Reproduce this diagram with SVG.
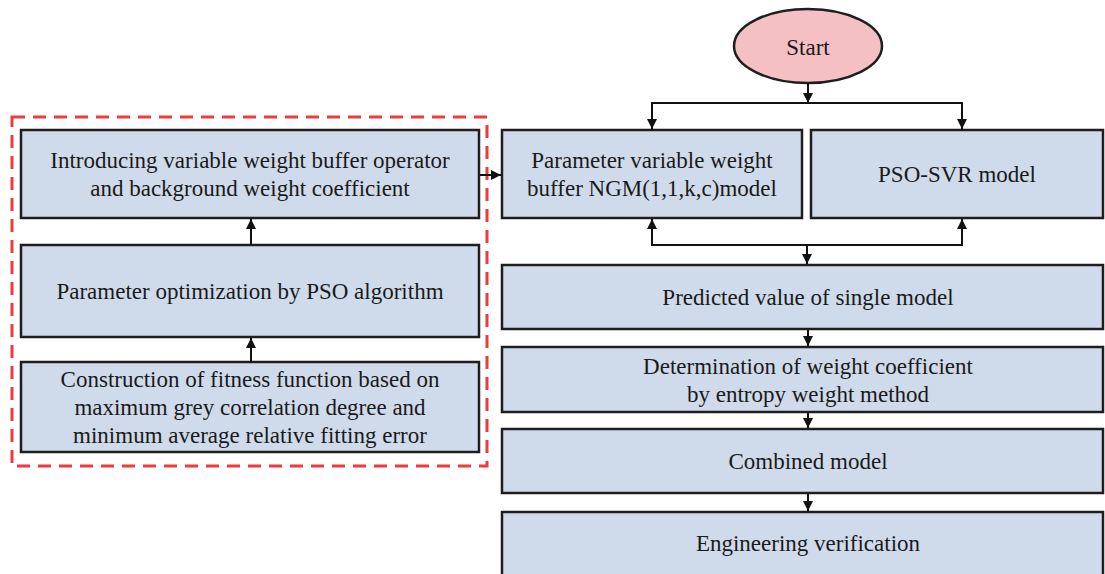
<svg xmlns="http://www.w3.org/2000/svg" width="1105" height="574" viewBox="0 0 1105 574">
<defs>
<style>
.box{fill:#cfdbeb;stroke:#1e1e1e;stroke-width:2.5}
.t{font-family:"Liberation Serif","Times New Roman",serif;font-size:23px;fill:#1a1a1a;text-anchor:middle}
.c{fill:none;stroke:#111;stroke-width:2}
</style>
<marker id="ah" viewBox="0 0 10 10" refX="10" refY="5" markerWidth="10" markerHeight="10" markerUnits="userSpaceOnUse" orient="auto">
<path d="M0,0 L10,5 L0,10 Z" fill="#111"/>
</marker>
</defs>
<rect width="1105" height="574" fill="#ffffff"/>
<rect id="dashed-group" x="12" y="117" width="475" height="349" fill="none" stroke="#ef3b3b" stroke-width="3" stroke-dasharray="13,8"/>

<g id="start">
<ellipse cx="808" cy="46" rx="74" ry="37" fill="#f5c0c4" stroke="#1e1e1e" stroke-width="2.5"/>
<text class="t" x="808" y="55">Start</text>
</g>
<g id="ngm">
<rect class="box" x="502" y="130" width="300" height="88"/>
<text class="t" x="652" y="168">Parameter variable weight</text>
<text class="t" x="652" y="196">buffer NGM(1,1,k,c)model</text>
</g>
<g id="psosvr">
<rect class="box" x="811" y="130" width="292" height="88"/>
<text class="t" x="957" y="182">PSO-SVR model</text>
</g>
<g id="predicted">
<rect class="box" x="502" y="265" width="601" height="64"/>
<text class="t" x="808" y="305">Predicted value of single model</text>
</g>
<g id="determination">
<rect class="box" x="502" y="347" width="601" height="65"/>
<text class="t" x="808" y="374">Determination of weight coefficient</text>
<text class="t" x="808" y="402">by entropy weight method</text>
</g>
<g id="combined">
<rect class="box" x="502" y="429" width="601" height="64"/>
<text class="t" x="808" y="469">Combined model</text>
</g>
<g id="engineering">
<rect class="box" x="502" y="512" width="601" height="64"/>
<text class="t" x="808" y="551">Engineering verification</text>
</g>
<g id="introducing">
<rect class="box" x="21" y="130" width="458" height="88"/>
<text class="t" x="250" y="168">Introducing variable weight buffer operator</text>
<text class="t" x="250" y="196">and background weight coefficient</text>
</g>
<g id="pso-opt">
<rect class="box" x="21" y="245" width="458" height="92"/>
<text class="t" x="250" y="299">Parameter optimization by PSO algorithm</text>
</g>
<g id="fitness">
<rect class="box" x="21" y="362" width="458" height="90"/>
<text class="t" x="250" y="387">Construction of fitness function based on</text>
<text class="t" x="250" y="415">maximum grey correlation degree and</text>
<text class="t" x="250" y="443">minimum average relative fitting error</text>
</g>

<g id="connectors">
<line class="c" x1="808" y1="83" x2="808" y2="103" marker-end="url(#ah)"/>
<polyline class="c" points="652,130 652,103 962,103 962,130"/>
<line class="c" x1="652" y1="103" x2="652" y2="129" marker-end="url(#ah)"/>
<line class="c" x1="962" y1="103" x2="962" y2="129" marker-end="url(#ah)"/>
<polyline class="c" points="652,219 652,245 962,245 962,219"/>
<line class="c" x1="652" y1="245" x2="652" y2="219" marker-end="url(#ah)"/>
<line class="c" x1="962" y1="245" x2="962" y2="219" marker-end="url(#ah)"/>
<line class="c" x1="807" y1="245" x2="807" y2="264" marker-end="url(#ah)"/>
<line class="c" x1="808" y1="330" x2="808" y2="346" marker-end="url(#ah)"/>
<line class="c" x1="808" y1="413" x2="808" y2="428" marker-end="url(#ah)"/>
<line class="c" x1="808" y1="494" x2="808" y2="511" marker-end="url(#ah)"/>
<line class="c" x1="251" y1="362" x2="251" y2="338" marker-end="url(#ah)"/>
<line class="c" x1="251" y1="245" x2="251" y2="219" marker-end="url(#ah)"/>
<line class="c" x1="480" y1="175" x2="501" y2="175" marker-end="url(#ah)"/>
</g>
</svg>
